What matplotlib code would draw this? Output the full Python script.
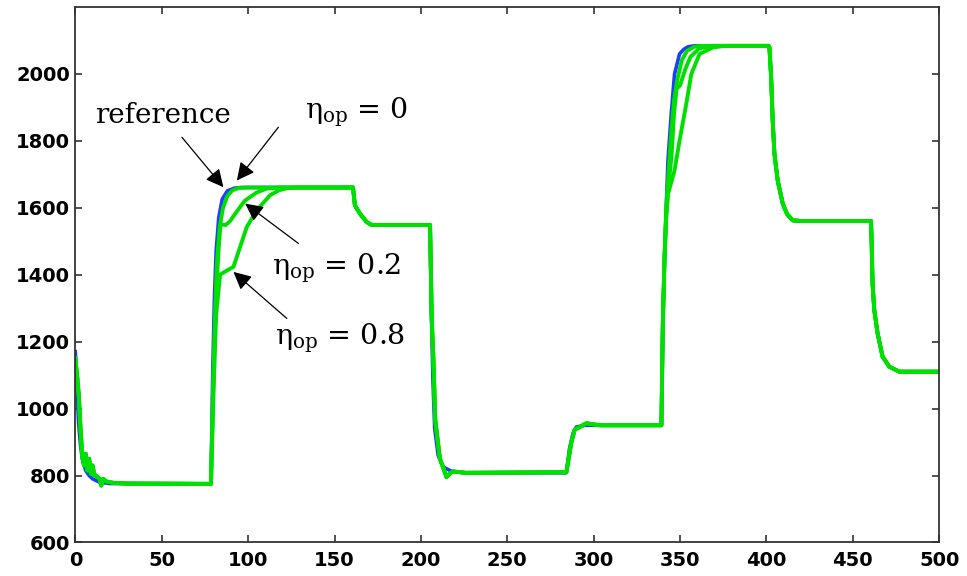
import numpy as np
import matplotlib
matplotlib.use("Agg")
import matplotlib.pyplot as plt

# ---------------- data ----------------
# initial settling (t 0 .. 78.5)
ref_start_t = [0, 1, 2, 3, 4, 6, 8, 10, 14, 20, 78.5]
ref_start_v = [1170, 1050, 950, 890, 850, 815, 800, 790, 780, 776, 775]
g_start_t = [0, 1, 2, 3, 4, 5, 6, 7, 8, 9, 10, 11, 12, 14, 15, 16, 18, 22, 30, 78.5]
g_start_v = [1150, 1100, 1040, 940, 860, 830, 865, 815, 850, 805, 830, 800, 800, 790, 770, 790, 782, 778, 776, 775]

# first speed-up (t 78.5 .. ~128)
ref_rise1_t = [79.5, 80.5, 81.5, 83, 85, 88, 92, 96]
ref_rise1_v = [1100, 1330, 1470, 1570, 1625, 1650, 1658, 1660]
e0_rise1_t = [79.8, 81, 82, 83.5, 85.5, 88, 91, 95, 100]
e0_rise1_v = [1080, 1300, 1440, 1540, 1600, 1635, 1652, 1659, 1660]
e02_rise1_t = [80, 81.5, 83, 84, 87, 89.6, 92, 95.4, 98, 101.2, 105, 110.8, 118]
e02_rise1_v = [1100, 1350, 1480, 1550, 1548, 1560, 1578, 1602, 1620, 1632, 1645, 1657, 1660]
e08_rise1_t = [80, 81.5, 83.8, 87, 91.5, 95.4, 99.2, 105, 112.7, 118, 122.4, 128]
e08_rise1_v = [1050, 1280, 1400, 1410, 1423, 1483, 1542, 1592, 1637, 1652, 1658, 1660]

# plateau, step down and low-speed region (t 160 .. 339)
mid_t = [160.7, 161.8, 164.7, 168.6, 171.5, 205.3]
mid_v = [1660, 1607, 1582, 1557, 1548, 1548]
ref_low_t = [206, 207, 208, 210, 213, 218, 226, 284.2, 286, 288, 290, 295, 300, 339.2]
ref_low_v = [1300, 1080, 940, 860, 825, 812, 808, 808, 880, 925, 945, 950, 950, 950]
g_low_t = [206.3, 207.3, 208.3, 211, 213, 214.8, 216.5, 218.5, 226, 284.2, 285.5, 287, 289, 292, 295.7, 303.5, 339.2]
g_low_v = [1264, 1136, 966, 850, 822, 795, 805, 812, 808, 810, 850, 897, 937, 945, 956, 950, 950]

# second speed-up (t 339 .. ~376)
ref_rise2_t = [340, 341, 342, 343, 344.9, 346.8, 349.7, 352, 354.5, 358]
ref_rise2_v = [1250, 1450, 1600, 1741, 1880, 1999, 2059, 2072, 2080, 2083]
e0_rise2_t = [340, 341, 342, 343.5, 345, 346.5, 348.5, 351, 354, 358, 362]
e0_rise2_v = [1250, 1450, 1600, 1720, 1830, 1920, 1985, 2040, 2068, 2080, 2083]
e02_rise2_t = [340, 341, 342, 343, 345, 346.5, 348, 350, 353, 356, 361, 368]
e02_rise2_v = [1250, 1450, 1580, 1650, 1750, 1880, 1955, 1965, 2013, 2050, 2075, 2083]
e08_rise2_t = [340, 341, 342, 343, 346.8, 349.7, 353.6, 356.5, 361.3, 368.9, 376]
e08_rise2_v = [1250, 1450, 1570, 1640, 1711, 1800, 1910, 1999, 2059, 2078, 2083]

# final steps (t 401 .. 500)
end_t = [401.2, 401.7, 402.7, 403.6, 404.6, 406.5, 409.4, 412, 415.2, 420, 460.5, 460.8, 461.4, 462.4, 464.3, 467.2, 471.1, 476.9, 500]
end_v = [2083, 2079, 1990, 1860, 1761, 1681, 1612, 1580, 1562, 1560, 1560, 1512, 1373, 1294, 1225, 1155, 1125, 1110, 1110]

x_ticks = [0, 50, 100, 150, 200, 250, 300, 350, 400, 450, 500]
y_ticks = [600, 800, 1000, 1200, 1400, 1600, 1800, 2000]

labels = ["reference", "η$_{\\mathrm{op}}$ = 0", "η$_{\\mathrm{op}}$ = 0.2", "η$_{\\mathrm{op}}$ = 0.8"]
label_pos = [(50.9, 1875), (163, 1884), (150.9, 1419), (153.2, 1211)]
arrow_tail = [(61.7, 1810), (117.5, 1840), (129.1, 1493), (122.4, 1269)]
arrow_tip = [(85.7, 1661), (93.5, 1681), (98.3, 1612), (91.5, 1408)]

# ---------------- build series ----------------
def build(start_t, start_v, r1t, r1v, lowt, lowv, r2t, r2v):
    t = start_t + r1t + mid_t + lowt + r2t + end_t
    v = start_v + r1v + mid_v + lowv + r2v + end_v
    return np.array(t), np.array(v)

ref = build(ref_start_t, ref_start_v, ref_rise1_t, ref_rise1_v, ref_low_t, ref_low_v, ref_rise2_t, ref_rise2_v)
e0 = build(g_start_t, g_start_v, e0_rise1_t, e0_rise1_v, g_low_t, g_low_v, e0_rise2_t, e0_rise2_v)
e02 = build(g_start_t, g_start_v, e02_rise1_t, e02_rise1_v, g_low_t, g_low_v, e02_rise2_t, e02_rise2_v)
e08 = build(g_start_t, g_start_v, e08_rise1_t, e08_rise1_v, g_low_t, g_low_v, e08_rise2_t, e08_rise2_v)

plt.rcParams['mathtext.fontset'] = 'dejavuserif'

fig = plt.figure(figsize=(9.67, 5.76), dpi=100)
ax = fig.add_axes([0.0779, 0.0582, 0.9713 - 0.0779, 0.9884 - 0.0582])

blue = '#1f3cff'
green = '#00e000'
ax.plot(*ref, color=blue, lw=2.6)
for s in (e08, e02, e0):
    ax.plot(*s, color=green, lw=2.8)

ax.set_xlim(0, 500)
ax.set_ylim(600, 2200)
ax.set_xticks(x_ticks)
ax.set_yticks(y_ticks)
ax.tick_params(direction='in', length=5, width=1.1, top=True, right=True,
               labelsize=14, colors='#222222', labelcolor='black')
ax.tick_params(axis='x', pad=6)
ax.tick_params(axis='y', pad=4)
for lab in ax.get_xticklabels() + ax.get_yticklabels():
    lab.set_fontweight('bold')
    lab.set_family('DejaVu Sans')
for sp in ax.spines.values():
    sp.set_linewidth(1.3)
    sp.set_color('#333333')

sizes = [20, 20.5, 20.5, 20.5]
for txt, pos, fs in zip(labels, label_pos, sizes):
    ax.text(pos[0], pos[1], txt, ha='center', va='center', fontsize=fs,
            family='DejaVu Serif', color='black')
for tail, tip in zip(arrow_tail, arrow_tip):
    ax.annotate('', xy=tip, xytext=tail,
                arrowprops=dict(arrowstyle='-|>', color='black', lw=0.9,
                                mutation_scale=27, shrinkA=0, shrinkB=0))

fig.savefig('out.png', dpi=100)
